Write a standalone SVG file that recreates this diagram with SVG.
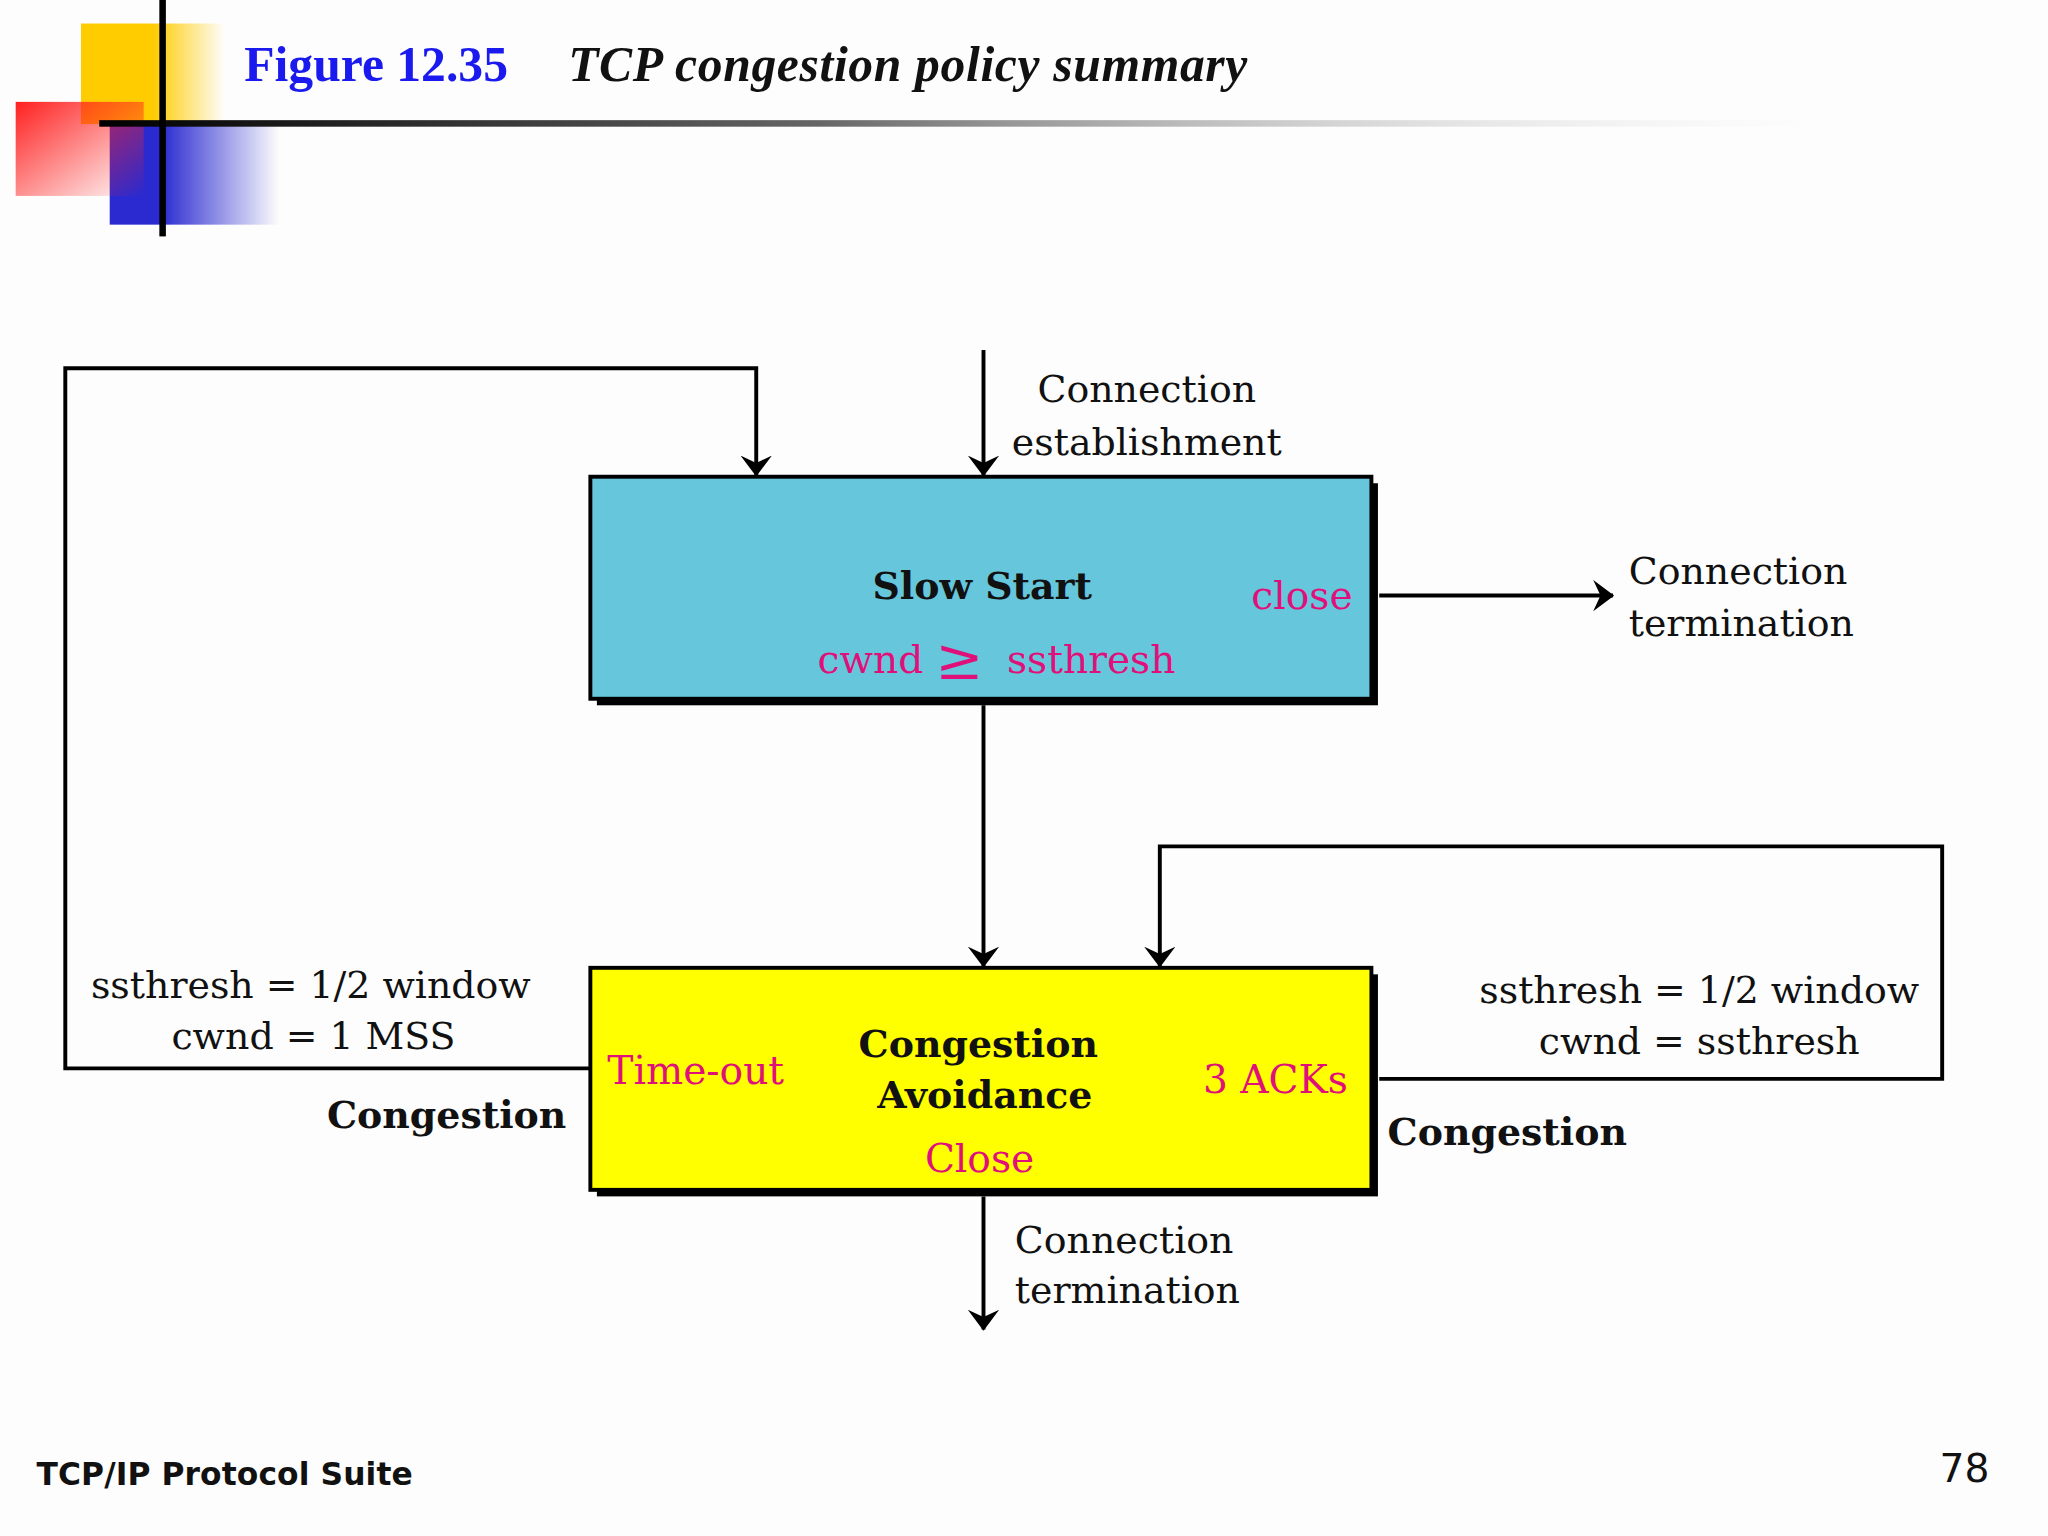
<svg xmlns="http://www.w3.org/2000/svg" width="2048" height="1536" viewBox="0 0 2048 1536">
<defs>
<style>
.t{font-family:"DejaVu Serif",serif;font-size:29px;fill:#111}
.m{font-family:"DejaVu Serif",serif;font-size:30px;fill:#e0107a}
.b{font-family:"DejaVu Serif",serif;font-size:29px;font-weight:bold;fill:#111}
.ln{stroke:#000;stroke-width:3;fill:none}
</style>
<marker id="ah" viewBox="0 0 20 30" refX="19" refY="15" markerWidth="16" markerHeight="24" markerUnits="userSpaceOnUse" orient="auto"><path d="M0,0 L20,15 L0,30 L7,15 Z" fill="#000"/></marker>
<linearGradient id="hl" x1="0" x2="1"><stop offset="0" stop-color="#000"/><stop offset="0.4" stop-color="#666"/><stop offset="1" stop-color="#fff" stop-opacity="0"/></linearGradient>
<linearGradient id="rg" x1="0" x2="1" y1="0" y2="1"><stop offset="0" stop-color="#ff2020"/><stop offset="1" stop-color="#ff2020" stop-opacity="0"/></linearGradient>
<linearGradient id="bg" x1="0" x2="1"><stop offset="0.3" stop-color="#2a2ad0"/><stop offset="1" stop-color="#2a2ad0" stop-opacity="0"/></linearGradient>
<linearGradient id="yg" x1="0" x2="1"><stop offset="0.5" stop-color="#ffcc00"/><stop offset="1" stop-color="#ffcc00" stop-opacity="0"/></linearGradient>
</defs>
<rect width="2048" height="1536" fill="#fdfdfd"/>
<g transform="scale(1.3061)">
<g id="decor">
<rect x="62" y="18" width="110" height="77" fill="url(#yg)"/>
<rect x="84" y="95" width="130" height="77" fill="url(#bg)"/>
<rect x="12" y="78" width="98" height="72" fill="url(#rg)"/>
<rect x="76" y="92" width="1380" height="5" fill="url(#hl)"/>
<rect x="122" y="0" width="5" height="181" fill="#000"/>
</g>
<g id="title">
<text x="187" y="62" style="font-family:'Liberation Serif',serif;font-size:38px;font-weight:bold;fill:#1a1aee">Figure 12.35</text>
<text x="435" y="62" style="font-family:'Liberation Serif',serif;font-size:38px;font-weight:bold;font-style:italic;fill:#111" textLength="520">TCP congestion policy summary</text>
</g>
<g id="slowstart">
<rect x="457" y="370" width="598" height="170" fill="#000"/>
<rect x="452" y="365" width="598" height="170" fill="#66c6dc" stroke="#000" stroke-width="3"/>
<text x="752" y="459" class="b" text-anchor="middle">Slow Start</text>
<text x="958" y="466" class="m">close</text>
<text x="626" y="515" class="m">cwnd</text>
<text x="716" y="520" class="m" style="font-size:44px">≥</text>
<text x="771" y="515" class="m">ssthresh</text>
</g>
<g id="congavoid">
<rect x="457" y="746" width="598" height="170" fill="#000"/>
<rect x="452" y="741" width="598" height="170" fill="#ffff00" stroke="#000" stroke-width="3"/>
<text x="749" y="809" class="b" text-anchor="middle">Congestion</text>
<text x="754" y="848" class="b" text-anchor="middle">Avoidance</text>
<text x="465" y="830" class="m">Time-out</text>
<text x="921" y="837" class="m">3 ACKs</text>
<text x="750" y="897" class="m" text-anchor="middle">Close</text>
</g>
<g id="connectors">
<path class="ln" d="M753,268 V364" marker-end="url(#ah)"/>
<path class="ln" d="M452,818 H50 V282 H579 V364" marker-end="url(#ah)"/>
<path class="ln" d="M1056,456 H1235" marker-end="url(#ah)"/>
<path class="ln" d="M753,540 V740" marker-end="url(#ah)"/>
<path class="ln" d="M1056,826 H1487 V648 H888 V740" marker-end="url(#ah)"/>
<path class="ln" d="M753,916 V1018" marker-end="url(#ah)"/>
</g>
<g id="labels">
<text x="878" y="308" class="t" text-anchor="middle">Connection</text>
<text x="878" y="348" class="t" text-anchor="middle">establishment</text>
<text x="1247" y="447" class="t">Connection</text>
<text x="1247" y="487" class="t">termination</text>
<text x="238" y="764" class="t" text-anchor="middle">ssthresh = 1/2 window</text>
<text x="240" y="803" class="t" text-anchor="middle">cwnd = 1 MSS</text>
<text x="342" y="864" class="b" text-anchor="middle">Congestion</text>
<text x="1301" y="768" class="t" text-anchor="middle">ssthresh = 1/2 window</text>
<text x="1301" y="807" class="t" text-anchor="middle">cwnd = ssthresh</text>
<text x="1154" y="877" class="b" text-anchor="middle">Congestion</text>
<text x="777" y="959" class="t">Connection</text>
<text x="777" y="998" class="t">termination</text>
</g>
<g id="footer">
<text x="28" y="1137" style="font-family:'DejaVu Sans',sans-serif;font-size:24px;font-weight:bold;fill:#111" textLength="288">TCP/IP Protocol Suite</text>
<text x="1485" y="1135" style="font-family:'DejaVu Sans',sans-serif;font-size:30px;fill:#111">78</text>
</g>
</g>
</svg>
